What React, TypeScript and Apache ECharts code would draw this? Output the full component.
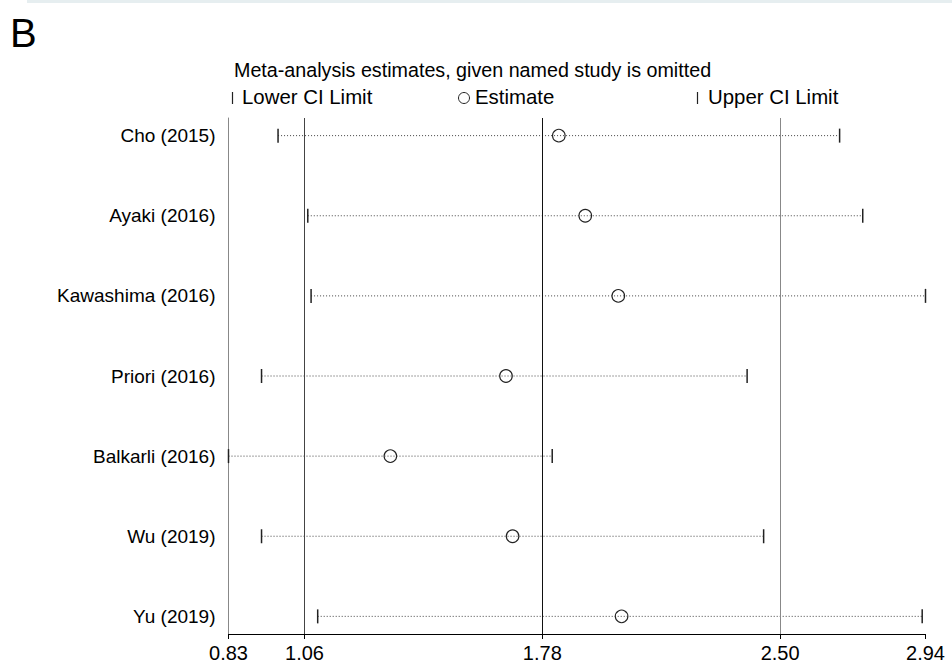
import React, { useEffect, useRef } from "react";
import * as echarts from "echarts";

const studies = [
  "Cho (2015)",
  "Ayaki (2016)",
  "Kawashima (2016)",
  "Priori (2016)",
  "Balkarli (2016)",
  "Wu (2019)",
  "Yu (2019)",
];
const lowerCI = [0.98, 1.07, 1.08, 0.93, 0.83, 0.93, 1.1];
const estimates = [1.83, 1.91, 2.01, 1.67, 1.32, 1.69, 2.02];
const upperCI = [2.68, 2.75, 2.94, 2.4, 1.81, 2.45, 2.93];
const xTickValues = [0.83, 1.06, 1.78, 2.5, 2.94];
const overallLower = 1.06;
const overallEstimate = 1.78;
const overallUpper = 2.5;

const FONT = "'Liberation Sans', Arial, Helvetica, sans-serif";
const FS_ROW = 19;
const FS_TITLE = 19.7;
const FS_LEG = 20.4;
const FS_TICK = 20;

export default function App() {
  const ref = useRef<HTMLDivElement>(null);
  useEffect(() => {
    if (!ref.current) return;
    const chart = echarts.init(ref.current, undefined, { renderer: "svg" });
    const rows = studies.map((_, i) => i + 1);
    const data = studies.map((_, i) => [i + 1, lowerCI[i], estimates[i], upperCI[i]]);
    chart.setOption({
      animation: false,
      backgroundColor: "#ffffff",
      textStyle: { fontFamily: FONT },
      grid: { left: 228.5, right: 26.5, top: 118, bottom: 33, containLabel: false },
      xAxis: {
        type: "value",
        min: 0.83,
        max: 2.94,
        axisLine: { show: true, onZero: false, lineStyle: { color: "#000", width: 1 } },
        axisTick: { show: true, customValues: xTickValues, length: 5, lineStyle: { color: "#000" } },
        axisLabel: {
          customValues: xTickValues,
          formatter: (v: number) => v.toFixed(2),
          color: "#000",
          fontSize: FS_TICK,
          fontFamily: FONT,
          margin: 9,
        },
        splitLine: { show: false },
      },
      yAxis: {
        type: "value",
        inverse: true,
        min: 0.78,
        max: 7.22,
        axisLine: { show: true, onZero: false, lineStyle: { color: "#888", width: 1 } },
        axisTick: { show: false },
        axisLabel: {
          customValues: rows,
          formatter: (v: number) => studies[Math.round(v) - 1] ?? "",
          color: "#000",
          fontSize: FS_ROW,
          fontFamily: FONT,
          margin: 13,
        },
        splitLine: { show: false },
      },
      graphic: [
        { type: "rect", shape: { x: 27, y: 0, width: 925, height: 3 }, style: { fill: "#e6eef0" } },
        {
          type: "text",
          x: 10,
          y: 33,
          style: { text: "B", fontSize: 40, fontFamily: FONT, fill: "#000", verticalAlign: "middle" },
        },
        {
          type: "text",
          x: 234,
          y: 70,
          style: {
            text: "Meta-analysis estimates, given named study is omitted",
            fontSize: FS_TITLE,
            fontFamily: FONT,
            fill: "#000",
            verticalAlign: "middle",
          },
        },
        { type: "line", shape: { x1: 232.5, y1: 92, x2: 232.5, y2: 104 }, style: { stroke: "#222", lineWidth: 1.2 } },
        {
          type: "text",
          x: 242,
          y: 97,
          style: { text: "Lower CI Limit", fontSize: FS_LEG, fontFamily: FONT, fill: "#000", verticalAlign: "middle" },
        },
        { type: "circle", shape: { cx: 464, cy: 98, r: 5.5 }, style: { fill: "none", stroke: "#222", lineWidth: 1 } },
        {
          type: "text",
          x: 475,
          y: 97,
          style: { text: "Estimate", fontSize: FS_LEG, fontFamily: FONT, fill: "#000", verticalAlign: "middle" },
        },
        { type: "line", shape: { x1: 697.5, y1: 92, x2: 697.5, y2: 104 }, style: { stroke: "#222", lineWidth: 1.2 } },
        {
          type: "text",
          x: 708,
          y: 97,
          style: { text: "Upper CI Limit", fontSize: FS_LEG, fontFamily: FONT, fill: "#000", verticalAlign: "middle" },
        },
      ],
      series: [
        {
          type: "custom",
          data,
          encode: { x: [1, 2, 3], y: 0 },
          clip: false,
          renderItem: (params: any, api: any) => {
            const row = api.value(0);
            const pLo = api.coord([api.value(1), row]);
            const pEst = api.coord([api.value(2), row]);
            const pHi = api.coord([api.value(3), row]);
            return {
              type: "group",
              children: [
                {
                  type: "line",
                  shape: { x1: pLo[0], y1: pLo[1], x2: pHi[0], y2: pHi[1] },
                  style: { stroke: "#444", lineWidth: 1, lineDash: [1, 2] },
                },
                {
                  type: "line",
                  shape: { x1: pLo[0], y1: pLo[1] - 7, x2: pLo[0], y2: pLo[1] + 7 },
                  style: { stroke: "#222", lineWidth: 1.5 },
                },
                {
                  type: "line",
                  shape: { x1: pHi[0], y1: pHi[1] - 7, x2: pHi[0], y2: pHi[1] + 7 },
                  style: { stroke: "#222", lineWidth: 1.5 },
                },
                {
                  type: "circle",
                  shape: { cx: pEst[0], cy: pEst[1], r: 6.3 },
                  style: { fill: "none", stroke: "#222", lineWidth: 1.1 },
                },
              ],
            };
          },
          markLine: {
            silent: true,
            symbol: ["none", "none"],
            label: { show: false },
            lineStyle: { type: "solid", width: 1 },
            data: [
              { xAxis: overallLower, lineStyle: { color: "#444", type: "solid", width: 1 } },
              { xAxis: overallEstimate, lineStyle: { color: "#111", type: "solid", width: 1 } },
              { xAxis: overallUpper, lineStyle: { color: "#888", type: "solid", width: 1 } },
            ],
          },
        },
      ],
    });
    return () => chart.dispose();
  }, []);
  return (
    <div
      ref={ref}
      style={{ position: "absolute", left: 0, top: 0, width: 952, height: 667, background: "#fff" }}
    />
  );
}
